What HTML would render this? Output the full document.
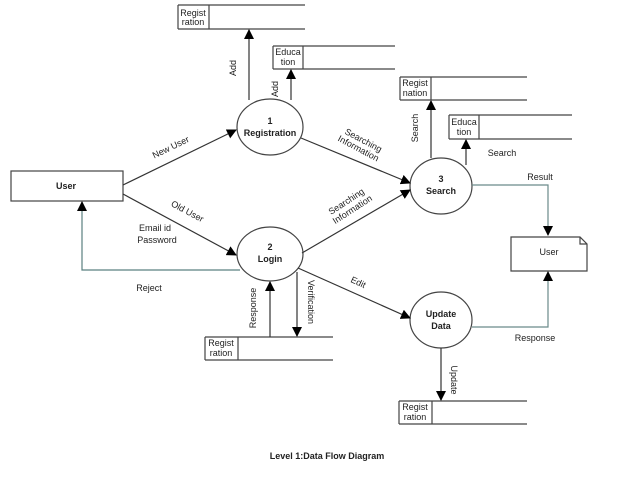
<!DOCTYPE html><html><head><style>body{margin:0;background:#fff}svg{display:block}text{font-family:"Liberation Sans",sans-serif;font-size:9px;fill:#222}</style></head><body>
<svg width="638" height="479" viewBox="0 0 638 479">
<defs><marker id="a" markerWidth="10" markerHeight="10" refX="9" refY="5" orient="auto" markerUnits="userSpaceOnUse"><path d="M0,0L10,5L0,10z" fill="#000"/></marker></defs>
<g stroke="#444" stroke-width="1.2" fill="none">
<path d="M178,5H305M178,29H305M178,5V29M209,5V29"/>
<path d="M273,46H395M273,69H395M273,46V69M303,46V69"/>
<path d="M400,77H527M400,100H527M400,77V100M431,77V100"/>
<path d="M449,115H572M449,139H572M449,115V139M479,115V139"/>
<path d="M205,337H333M205,360H333M205,337V360M238,337V360"/>
<path d="M399,401H527M399,424H527M399,401V424M432,401V424"/>
<rect x="11" y="171" width="112" height="30"/>
<path d="M511,237H580L587,244V271H511Z M580,237V244H587"/>
<ellipse cx="270" cy="127" rx="33" ry="28"/>
<ellipse cx="270" cy="254" rx="33" ry="27"/>
<ellipse cx="441" cy="186" rx="31" ry="28"/>
<ellipse cx="441" cy="320" rx="31" ry="28"/>
</g>
<g stroke="#333" stroke-width="1.2" fill="none" marker-end="url(#a)">
<path d="M249,100V30"/><path d="M291,100V70"/>
<path d="M123,185L236,130"/><path d="M123,194L236,255"/>
<path d="M240,270H82V202" stroke="#5a8080"/>
<path d="M431,158V101"/><path d="M466,165V140"/>
<path d="M472,185H548V235" stroke="#6a8a8a"/>
<path d="M472,327H548V272" stroke="#6a8a8a"/>
<path d="M441,348V400"/>
<path d="M270,337V282"/><path d="M297,272V336"/>
<path d="M298,268L410,318"/>
<path d="M301,138L410,183"/><path d="M302,253L410,190"/>
</g>
<g font-weight="bold" text-anchor="middle"><text x="270" y="124">1</text><text x="270" y="136">Registration</text>
<text x="270" y="250">2</text><text x="270" y="262">Login</text>
<text x="441" y="182">3</text><text x="441" y="194">Search</text>
<text x="441" y="317">Update</text><text x="441" y="329">Data</text>
<text x="66" y="189">User</text>
<text x="327" y="459" font-size="11.5" fill="#111">Level 1:Data Flow Diagram</text></g>
<g text-anchor="middle">
<text x="549" y="255">User</text>
<text x="193" y="16" font-size="8">Regist</text><text x="193" y="25" font-size="8">ration</text>
<text x="288" y="55" font-size="8">Educa</text><text x="288" y="65" font-size="8">tion</text>
<text x="415" y="86" font-size="8">Regist</text><text x="415" y="96" font-size="8">nation</text>
<text x="464" y="125" font-size="8">Educa</text><text x="464" y="135" font-size="8">tion</text>
<text x="221" y="346" font-size="8">Regist</text><text x="221" y="356" font-size="8">ration</text>
<text x="415" y="410" font-size="8">Regist</text><text x="415" y="420" font-size="8">ration</text>
<text transform="translate(172,150) rotate(-26)">New User</text>
<text transform="translate(186,214) rotate(28)">Old User</text>
<text x="155" y="231">Email id</text><text x="157" y="243">Password</text>
<text x="149" y="291">Reject</text>
<text transform="translate(236,68) rotate(-90)">Add</text>
<text transform="translate(278,89) rotate(-90)">Add</text>
<text transform="translate(362,143) rotate(28)">Searching</text>
<text transform="translate(357,151) rotate(28)">Information</text>
<text transform="translate(348,204) rotate(-33)">Searching</text>
<text transform="translate(354,212) rotate(-33)">Information</text>
<text transform="translate(418,128) rotate(-90)">Search</text>
<text x="502" y="156">Search</text>
<text x="540" y="180">Result</text>
<text transform="translate(357,285) rotate(25)">Edit</text>
<text transform="translate(256,308) rotate(-90)">Response</text>
<text transform="translate(308,302) rotate(90)">Verification</text>
<text transform="translate(451,380) rotate(90)">Update</text>
<text x="535" y="341">Response</text>
</g>
</svg></body></html>
